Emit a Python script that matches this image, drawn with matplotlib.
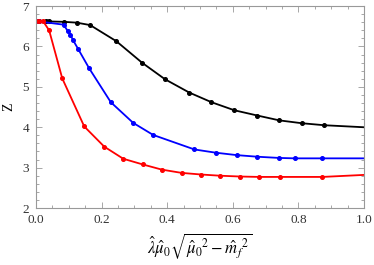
import matplotlib.pyplot as plt
from matplotlib.ticker import MultipleLocator
from matplotlib.transforms import ScaledTranslation

# data
black_x = [0.008, 0.03, 0.04, 0.086, 0.124, 0.165, 0.245, 0.323, 0.393, 0.467,
           0.535, 0.605, 0.675, 0.742, 0.81, 0.879, 1.0]
black_y = [6.62, 6.62, 6.62, 6.61, 6.59, 6.53, 6.13, 5.60, 5.19, 4.86,
           4.62, 4.42, 4.29, 4.17, 4.10, 4.05, 4.0]

blue_x = [0.0, 0.008, 0.084, 0.097, 0.105, 0.112, 0.129, 0.162, 0.228, 0.296,
          0.357, 0.483, 0.548, 0.612, 0.675, 0.742, 0.79, 0.873, 1.0]
blue_y = [6.62, 6.62, 6.54, 6.38, 6.29, 6.17, 5.93, 5.46, 4.62, 4.11,
          3.81, 3.45, 3.37, 3.31, 3.27, 3.24, 3.23, 3.23, 3.23]

red_x = [0.0, 0.008, 0.022, 0.04, 0.08, 0.147, 0.208, 0.266, 0.325, 0.384,
         0.444, 0.503, 0.561, 0.622, 0.681, 0.744, 0.873, 1.0]
red_y = [6.62, 6.62, 6.62, 6.40, 5.21, 4.02, 3.52, 3.22, 3.08, 2.95,
         2.87, 2.83, 2.80, 2.78, 2.77, 2.77, 2.77, 2.82]

plt.rcParams['font.family'] = ['Liberation Serif', 'DejaVu Serif']
plt.rcParams['mathtext.fontset'] = 'stix'

fig = plt.figure(figsize=(3.74, 2.65), dpi=100)
ax = fig.add_axes([0.0963, 0.215, 0.877, 0.762])

# last point of each series is only the end of the line, no marker
for xs, ys, c in [(black_x, black_y, 'black'), (blue_x, blue_y, '#0000ff'),
                  (red_x, red_y, '#ff0000')]:
    ax.plot(xs, ys, color=c, lw=1.3, marker='o', ms=2.6,
            markevery=slice(0, len(xs) - 1))

ax.set_xlim(0, 1)
ax.set_ylim(2, 7)
ax.xaxis.set_major_locator(MultipleLocator(0.2))
ax.xaxis.set_minor_locator(MultipleLocator(0.05))
ax.yaxis.set_major_locator(MultipleLocator(1))
ax.yaxis.set_minor_locator(MultipleLocator(0.2))
ax.xaxis.set_major_formatter(lambda v, p: f"{v:.1f}")

for s in ax.spines.values():
    s.set_color('#999999')
    s.set_linewidth(0.8)
ax.tick_params(which='both', direction='in', top=True, right=True,
               color='#999999', width=0.6, labelsize=9.5, labelcolor='#333333')
ax.tick_params(axis='x', pad=4)
ax.tick_params(axis='y', pad=5)
ax.tick_params(which='major', length=4)
ax.tick_params(which='minor', length=2)

ax.set_ylabel('Z', fontsize=10, labelpad=5)
ax.set_xlabel(r'$\hat{\lambda}\hat{\mu}_0\sqrt{\hat{\mu}_0{}^2-\hat{m}_f{}^2}$',
              fontsize=12, labelpad=4)

# keep the corner labels "2" and "0.0" apart
fig.canvas.draw()
first = ax.get_xticklabels()[0]
first.set_transform(first.get_transform() + ScaledTranslation(3 / 100, 0, fig.dpi_scale_trans))

fig.savefig('out.png', dpi=100)
